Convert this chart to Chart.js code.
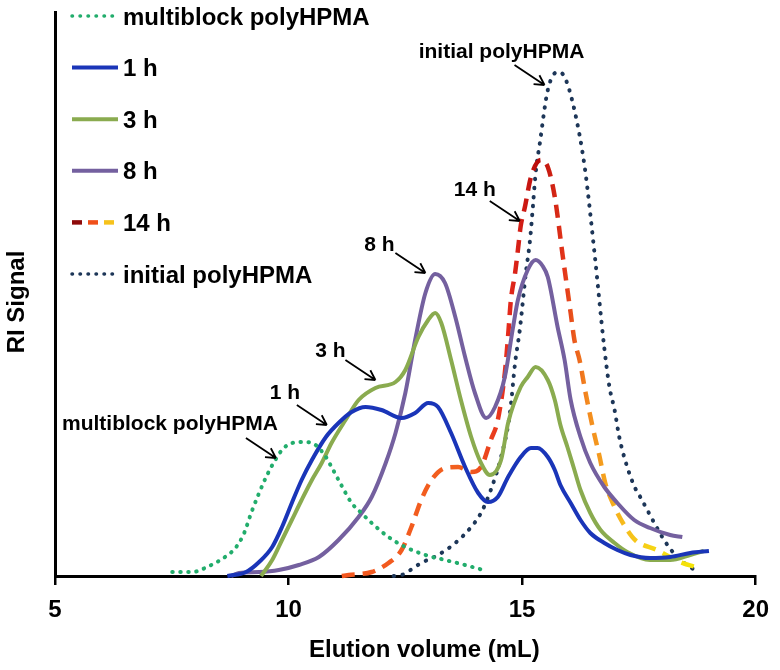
<!DOCTYPE html>
<html>
<head>
<meta charset="utf-8">
<script src="https://cdn.jsdelivr.net/npm/chart.js@4.4.1/dist/chart.umd.min.js"></script>
<style>
  html, body { margin: 0; padding: 0; background: #fff; }
  #wrap { width: 780px; height: 670px; }
</style>
</head>
<body>
<div id="wrap"><canvas id="gpc"></canvas></div>
<script>
// GPC traces: elution volume (mL) vs RI signal (arbitrary units)

const FONT = "'Liberation Sans', Arial, sans-serif";

const multiblockX = [7.51, 7.94, 8.30, 8.67, 8.88, 9.05, 9.20, 9.37, 9.52, 9.69, 9.86, 10.07, 10.37,
  10.58, 10.80, 10.92, 11.14, 11.35, 11.56, 11.78, 12.14, 12.50, 12.93, 13.35, 13.78, 14.16];
const multiblockY = [4, 4, 10, 20, 29, 43, 63, 83, 99, 114, 126, 133, 134,
  131, 119, 109, 90, 73, 63, 53, 39, 29, 21, 16, 11, 6];

const h1X = [8.69, 9.09, 9.37, 9.65, 9.86, 10.07, 10.28, 10.50, 10.80, 11.07, 11.35, 11.65, 11.99,
  12.42, 12.71, 12.99, 13.20, 13.48, 13.78, 14.06, 14.27, 14.48, 14.70, 14.97, 15.19, 15.33, 15.55,
  15.70, 15.82, 16.04, 16.25, 16.46, 16.76, 17.04, 17.32, 17.74, 18.17, 18.60, 19.00];
const h1Y = [0, 4, 14, 29, 49, 73, 96, 116, 139, 153, 164, 169, 166,
  158, 163, 173, 169, 143, 109, 83, 74, 79, 99, 119, 128, 128, 119,
  106, 91, 73, 56, 43, 33, 26, 21, 18, 19, 23, 25];

const h3X = [9.41, 9.65, 9.86, 10.07, 10.28, 10.50, 10.71, 10.92, 11.22, 11.50, 11.86, 12.29, 12.50,
  12.78, 12.99, 13.14, 13.27, 13.48, 13.69, 13.91, 14.12, 14.31, 14.55, 14.70, 14.97, 15.12, 15.29,
  15.55, 15.70, 15.82, 15.97, 16.12, 16.25, 16.46, 16.68, 16.98, 17.25, 17.74, 18.17, 18.60, 18.89];
const h3Y = [0, 16, 36, 56, 76, 96, 113, 133, 156, 176, 188, 194, 206,
  239, 256, 263, 253, 216, 176, 139, 113, 101, 116, 153, 189, 199, 209,
  196, 176, 151, 129, 106, 86, 63, 46, 33, 24, 16, 16, 21, 25];

const h8X = [8.77, 8.94, 9.37, 9.79, 10.22, 10.65, 11.07, 11.50, 11.78, 12.08, 12.29, 12.50, 12.71,
  12.93, 13.14, 13.35, 13.57, 13.78, 13.99, 14.23, 14.42, 14.63, 14.80, 14.91, 15.12, 15.29, 15.44,
  15.55, 15.76, 15.91, 16.04, 16.25, 16.46, 16.76, 17.04, 17.40, 17.74, 18.17, 18.43];
const h8Y = [0, 3, 4, 6, 11, 19, 36, 59, 79, 113, 143, 183, 236,
  283, 302, 293, 259, 219, 183, 158, 169, 199, 247, 276, 306, 316, 310,
  299, 249, 216, 176, 139, 113, 89, 73, 56, 48, 41, 39];

const h14X = [11.14, 11.29, 11.78, 12.14, 12.42, 12.63, 12.84, 13.06, 13.35, 13.63, 13.91, 14.12, 14.33,
  14.48, 14.63, 14.70, 14.76, 14.85, 14.91, 14.97, 15.06, 15.19, 15.40, 15.55, 15.70, 15.87, 16.04,
  16.12, 16.23, 16.36, 16.51, 16.66, 16.78, 16.98, 17.21, 17.42, 17.89, 18.38, 18.79];
const h14Y = [0, 1, 4, 13, 26, 49, 76, 96, 108, 109, 104, 109, 136,
  156, 203, 240, 276, 303, 326, 350, 369, 399, 416, 409, 379, 320, 263,
  236, 216, 183, 149, 119, 93, 69, 49, 36, 26, 14, 8];

const initialX = [12.25, 12.42, 12.84, 13.20, 13.57, 13.91, 14.12, 14.33, 14.55, 14.74, 14.85, 14.95,
  15.08, 15.17, 15.23, 15.29, 15.38, 15.55, 15.76, 15.91, 16.12, 16.34, 16.55, 16.76, 16.87, 16.98,
  17.08, 17.25, 17.42, 17.53, 17.83, 18.04, 18.32, 18.79];
const initialY = [0, 1, 13, 21, 33, 49, 63, 86, 119, 163, 213, 246,
  303, 336, 369, 403, 433, 486, 504, 499, 466, 409, 323, 228, 189, 166,
  139, 109, 88, 79, 53, 36, 19, 3];

const xTicks = [5, 10, 15, 20];

// callouts: label, the point the arrow touches (mL, signal), text offset from that point (px)
const callouts = [
  { text: 'initial polyHPMA',    x: 15.48, y: 491, dx: -43,  dy: -33 },
  { text: '14 h',                x: 14.95, y: 355, dx: -45,  dy: -31 },
  { text: '8 h',                 x: 12.93, y: 303, dx: -46,  dy: -28 },
  { text: '3 h',                 x: 11.86, y: 196, dx: -45,  dy: -29 },
  { text: '1 h',                 x: 10.82, y: 151, dx: -42,  dy: -32 },
  { text: 'multiblock polyHPMA', x: 9.73,  y: 118, dx: -106, dy: -34 }
];

const pts = (xs, ys) => xs.map((v, i) => ({ x: v, y: ys[i] }));

// 14 h trace runs orange -> dark red at the peak -> yellow in the tail
function heatColour(context) {
  const chart = context.chart;
  const xs = chart.scales && chart.scales.x;
  if (!chart.chartArea || !xs) return '#e8401c';
  const a = xs.getPixelForValue(11), b = xs.getPixelForValue(19);
  const g = chart.ctx.createLinearGradient(a, 0, b, 0);
  const stop = (v, c) => g.addColorStop((v - 11) / 8, c);
  stop(11.0, '#f2561e');
  stop(13.8, '#f2601f');
  stop(14.7, '#e52a1c');
  stop(15.35, '#b80c0c');
  stop(15.9, '#e3351a');
  stop(16.4, '#f38a1f');
  stop(17.2, '#f6bd1c');
  stop(18.0, '#f6dc12');
  stop(19.0, '#f2e600');
  return g;
}

const dotted = (colour, gap) => ({
  borderColor: colour, borderWidth: 4, borderDash: [0.5, gap], borderCapStyle: 'round'
});

const datasets = [
  Object.assign({ label: 'multiblock polyHPMA', data: pts(multiblockX, multiblockY) }, dotted('#22ad6c', 7.5)),
  { label: '1 h', data: pts(h1X, h1Y), borderColor: '#1a35b8', borderWidth: 4 },
  { label: '3 h', data: pts(h3X, h3Y), borderColor: '#8aab4f', borderWidth: 4 },
  { label: '8 h', data: pts(h8X, h8Y), borderColor: '#74609f', borderWidth: 4 },
  { label: '14 h', data: pts(h14X, h14Y), borderColor: heatColour, borderWidth: 4.5, borderDash: [13, 8] },
  Object.assign({ label: 'initial polyHPMA', data: pts(initialX, initialY) }, dotted('#1d3658', 8.5))
];
datasets.forEach(d => {
  d.pointRadius = 0;
  d.fill = false;
  d.cubicInterpolationMode = 'monotone';
  d.clip = false;
});

const overlay = {
  id: 'overlay',
  afterDraw(chart) {
    const { ctx, chartArea: area, scales: { x, y } } = chart;
    ctx.save();
    ctx.fillStyle = '#000';
    ctx.textBaseline = 'middle';

    // axis titles
    ctx.font = 'bold 24px ' + FONT;
    ctx.textAlign = 'center';
    ctx.fillText('Elution volume (mL)', (area.left + area.right) / 2 + 19, 650);
    ctx.save();
    ctx.translate(17, (area.top + area.bottom) / 2 + 8);
    ctx.rotate(-Math.PI / 2);
    ctx.fillText('RI Signal', 0, 0);
    ctx.restore();

    // legend, stacked inside the plot at the top left
    ctx.textAlign = 'left';
    chart.data.datasets.forEach((ds, i) => {
      const ly = area.top + 4 + i * 51.6;
      const x0 = area.left + 17, x1 = x0 + 46;
      ctx.save();
      if (ds.label === '14 h') {
        ctx.lineWidth = 4.5;
        ctx.lineCap = 'butt';
        ['#8e0a0a', '#f0501a', '#f6c21c'].forEach((c, k) => {
          ctx.strokeStyle = c;
          ctx.beginPath();
          ctx.moveTo(x0 + k * 16, ly);
          ctx.lineTo(x0 + k * 16 + 10, ly);
          ctx.stroke();
        });
      } else {
        ctx.strokeStyle = ds.borderColor;
        ctx.lineWidth = ds.borderDash ? 3.5 : ds.borderWidth;
        ctx.lineCap = ds.borderCapStyle || 'butt';
        ctx.setLineDash(ds.borderDash ? [0.5, 7.5] : []);
        ctx.beginPath();
        ctx.moveTo(x0, ly);
        ctx.lineTo(ds.borderDash ? x1 - 5 : x1, ly);
        ctx.stroke();
      }
      ctx.restore();
      ctx.fillText(ds.label, x0 + 51, ly + 2);
    });

    // callout labels with arrows
    ctx.font = 'bold 21px ' + FONT;
    ctx.textAlign = 'center';
    ctx.strokeStyle = '#000';
    ctx.lineWidth = 1.8;
    callouts.forEach(c => {
      const tx = x.getPixelForValue(c.x), ty = y.getPixelForValue(c.y);
      const sx = tx - 30, sy = ty - 20;
      ctx.beginPath();
      ctx.moveTo(sx, sy);
      ctx.lineTo(tx, ty);
      const ang = Math.atan2(ty - sy, tx - sx);
      [0.5, -0.5].forEach(d => {
        ctx.moveTo(tx, ty);
        ctx.lineTo(tx - 11 * Math.cos(ang + d), ty - 11 * Math.sin(ang + d));
      });
      ctx.stroke();
      ctx.fillText(c.text, tx + c.dx, ty + c.dy);
    });
    ctx.restore();
  }
};

new Chart(document.getElementById('gpc'), {
  type: 'line',
  data: { datasets },
  options: {
    responsive: true,
    maintainAspectRatio: false,
    animation: false,
    layout: { padding: { top: 12, right: 21, left: 0, bottom: 0 } },
    plugins: {
      legend : { display: false },
      tooltip: { enabled: false }
    },
    scales: {
      x: {
        type: 'linear',
        min: 5,
        max: 20,
        afterBuildTicks: s => { s.ticks = xTicks.map(v => ({ value: v })); },
        afterFit: s => { s.height = 94; },
        ticks: { color: '#000', font: { size: 24, weight: 'bold', family: FONT }, padding: 11, maxRotation: 0 },
        grid : { display: true, drawOnChartArea: false, drawTicks: true, tickLength: 9, color: '#000', lineWidth: 2.5 },
        border: { display: true, color: '#000', width: 3 }
      },
      y: {
        type: 'linear',
        min: 0,
        max: 564,
        afterFit: s => { s.width = 55; },
        ticks: { display: false },
        grid : { display: false },
        border: { display: true, color: '#000', width: 3 }
      }
    }
  },
  plugins: [overlay]
});
</script>
</body>
</html>
